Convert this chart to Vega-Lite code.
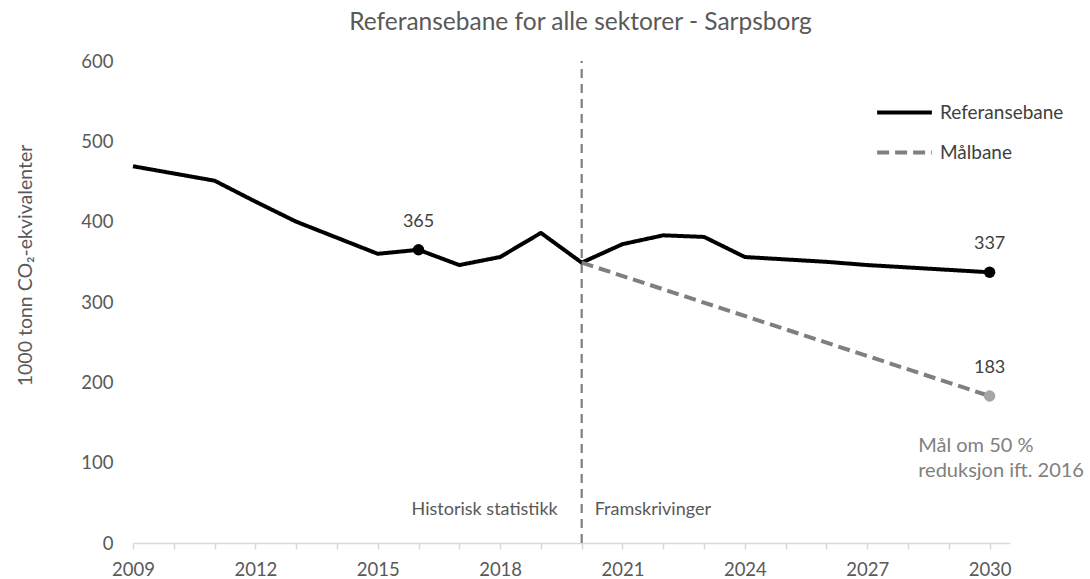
{
  "$schema": "https://vega.github.io/schema/vega-lite/v6.json",
  "width": 877,
  "height": 482,
  "autosize": {"type": "none"},
  "padding": {"left": 133, "top": 61, "right": 80, "bottom": 36},
  "background": "white",
  "config": {
    "font": "Lato",
    "view": {"stroke": null},
    "title": {"font": "Lato", "fontSize": 24.5, "fontWeight": "normal", "color": "#595959"}
  },
  "title": {"text": "Referansebane for alle sektorer - Sarpsborg", "anchor": "middle", "offset": 17, "dx": 9},
  "datasets": {
    "lines": [
      {"series": "Referansebane", "year": 2009, "value": 469},
      {"series": "Referansebane", "year": 2010, "value": 460},
      {"series": "Referansebane", "year": 2011, "value": 451},
      {"series": "Referansebane", "year": 2012, "value": 425},
      {"series": "Referansebane", "year": 2013, "value": 400},
      {"series": "Referansebane", "year": 2014, "value": 380},
      {"series": "Referansebane", "year": 2015, "value": 360},
      {"series": "Referansebane", "year": 2016, "value": 365},
      {"series": "Referansebane", "year": 2017, "value": 346},
      {"series": "Referansebane", "year": 2018, "value": 356},
      {"series": "Referansebane", "year": 2019, "value": 386},
      {"series": "Referansebane", "year": 2020, "value": 349},
      {"series": "Referansebane", "year": 2021, "value": 372},
      {"series": "Referansebane", "year": 2022, "value": 383},
      {"series": "Referansebane", "year": 2023, "value": 381},
      {"series": "Referansebane", "year": 2024, "value": 356},
      {"series": "Referansebane", "year": 2025, "value": 353},
      {"series": "Referansebane", "year": 2026, "value": 350},
      {"series": "Referansebane", "year": 2027, "value": 346},
      {"series": "Referansebane", "year": 2028, "value": 343},
      {"series": "Referansebane", "year": 2029, "value": 340},
      {"series": "Referansebane", "year": 2030, "value": 337},
      {"series": "Målbane", "year": 2020, "value": 349},
      {"series": "Målbane", "year": 2030, "value": 183}
    ],
    "points": [
      {"series": "Referansebane", "year": 2016, "value": 365},
      {"series": "Referansebane", "year": 2030, "value": 337},
      {"series": "Målbane", "year": 2030, "value": 183}
    ],
    "divider": [{"year": 2020, "low": 0, "high": 600}],
    "phases": [
      {"year": 2020, "value": 41, "label": "Historisk statistikk", "side": "left"},
      {"year": 2020, "value": 41, "label": "Framskrivinger", "side": "right"}
    ],
    "note": [{"year": 2028.25, "value": 113, "label": "Mål om 50 %\nreduksjon ift. 2016"}]
  },
  "layer": [
    {
      "data": {"name": "divider"},
      "mark": {"type": "rule", "color": "#7f7f7f", "strokeWidth": 2.2, "strokeDash": [9, 6]},
      "encoding": {
        "x": {"field": "year", "type": "quantitative", "scale": {"domain": [2009, 2030.5]}},
        "y": {"field": "low", "type": "quantitative"},
        "y2": {"field": "high"}
      }
    },
    {
      "data": {"name": "lines"},
      "mark": {"type": "line", "strokeWidth": 4, "strokeJoin": "round"},
      "encoding": {
        "x": {
          "field": "year", "type": "quantitative",
          "scale": {"domain": [2009, 2030.5], "nice": false, "zero": false},
          "axis": {
            "title": null,
            "values": [2009,2010,2011,2012,2013,2014,2015,2016,2017,2018,2019,2020,2021,2022,2023,2024,2025,2026,2027,2028,2029,2030],
            "labelExpr": "(datum.value - 2009) % 3 == 0 ? datum.value : ''",
            "grid": false,
            "domainColor": "#d9d9d9",
            "domainWidth": 1.5,
            "tickColor": "#d9d9d9",
            "tickSize": 6,
            "tickWidth": 1.5,
            "labelFont": "Lato",
            "labelFontSize": 18.5,
            "labelColor": "#595959",
            "labelPadding": 11,
            "labelFlush": false,
            "labelOverlap": false
          }
        },
        "y": {
          "field": "value", "type": "quantitative",
          "scale": {"domain": [0, 600], "nice": false},
          "axis": {
            "title": "1000 tonn CO₂-ekvivalenter",
            "titleFont": "Lato",
            "titleFontSize": 19.5,
            "titleFontWeight": "normal",
            "titleColor": "#595959",
            "titleX": -108,
            "titleY": 204,
            "titleAngle": -90,
            "titleAlign": "center",
            "titleBaseline": "middle",
            "values": [0, 100, 200, 300, 400, 500, 600],
            "grid": false,
            "domain": false,
            "ticks": false,
            "labelFont": "Lato",
            "labelFontSize": 18.5,
            "labelColor": "#595959",
            "labelPadding": 20
          }
        },
        "color": {
          "field": "series", "type": "nominal",
          "scale": {"domain": ["Referansebane", "Målbane"], "range": ["#000000", "#7f7f7f"]},
          "legend": {
            "title": null,
            "orient": "none",
            "legendX": 742,
            "legendY": 22,
            "symbolType": "stroke",
            "symbolStrokeWidth": 4,
            "symbolSize": 3000,
            "labelFont": "Lato",
            "labelFontSize": 19,
            "labelColor": "#404040",
            "labelOffset": 6,
            "rowPadding": -15
          }
        },
        "strokeDash": {
          "field": "series", "type": "nominal",
          "scale": {"domain": ["Referansebane", "Målbane"], "range": [[1, 0], [12, 6]]},
          "legend": null
        }
      }
    },
    {
      "data": {"name": "points"},
      "transform": [{"filter": "datum.series == 'Referansebane'"}],
      "mark": {"type": "point", "filled": true, "size": 130, "color": "#000000", "opacity": 1},
      "encoding": {
        "x": {"field": "year", "type": "quantitative"},
        "y": {"field": "value", "type": "quantitative"}
      }
    },
    {
      "data": {"name": "points"},
      "transform": [{"filter": "datum.series == 'Målbane'"}],
      "mark": {"type": "point", "filled": true, "size": 130, "color": "#a6a6a6", "opacity": 1},
      "encoding": {
        "x": {"field": "year", "type": "quantitative"},
        "y": {"field": "value", "type": "quantitative"}
      }
    },
    {
      "data": {"name": "points"},
      "mark": {"type": "text", "dy": -28, "fontSize": 18, "color": "#404040", "font": "Lato"},
      "encoding": {
        "x": {"field": "year", "type": "quantitative"},
        "y": {"field": "value", "type": "quantitative"},
        "text": {"field": "value", "type": "quantitative"}
      }
    },
    {
      "data": {"name": "phases"},
      "transform": [{"filter": "datum.side == 'left'"}],
      "mark": {"type": "text", "align": "right", "dx": -24, "fontSize": 18, "color": "#595959", "font": "Lato"},
      "encoding": {
        "x": {"field": "year", "type": "quantitative"},
        "y": {"field": "value", "type": "quantitative"},
        "text": {"field": "label"}
      }
    },
    {
      "data": {"name": "phases"},
      "transform": [{"filter": "datum.side == 'right'"}],
      "mark": {"type": "text", "align": "left", "dx": 13, "fontSize": 18, "color": "#595959", "font": "Lato"},
      "encoding": {
        "x": {"field": "year", "type": "quantitative"},
        "y": {"field": "value", "type": "quantitative"},
        "text": {"field": "label"}
      }
    },
    {
      "data": {"name": "note"},
      "transform": [{"calculate": "split(datum.label, '\\n')", "as": "lines"}],
      "mark": {"type": "text", "align": "left", "baseline": "alphabetic", "fontSize": 20, "lineHeight": 25, "color": "#808080", "font": "Lato"},
      "encoding": {
        "x": {"field": "year", "type": "quantitative"},
        "y": {"field": "value", "type": "quantitative"},
        "text": {"field": "lines"}
      }
    }
  ]
}
